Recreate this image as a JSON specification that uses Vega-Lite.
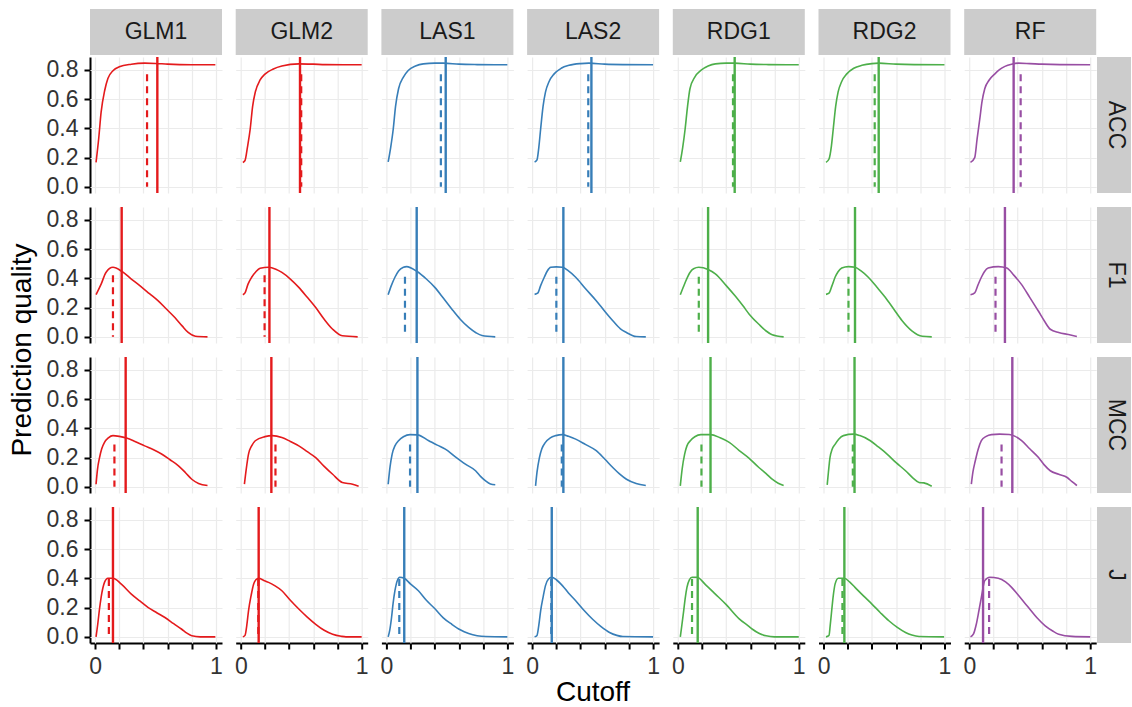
{
  "$schema": "https://vega.github.io/schema/vega-lite/v6.json",
  "background": "white",
  "padding": {"left": 8, "top": 9, "right": 0, "bottom": 0},
  "config": {
    "font": "Liberation Sans",
    "view": {"stroke": null},
    "axis": {
      "gridColor": "#EBEBEB",
      "gridWidth": 1.2,
      "domainColor": "#000000",
      "domainWidth": 2,
      "tickColor": "#000000",
      "tickWidth": 2,
      "tickSize": 6,
      "labelFont": "Liberation Sans",
      "labelFontSize": 23,
      "labelColor": "#333333",
      "labelPadding": 6,
      "labelOverlap": false,
      "labelFlush": false
    }
  },
  "datasets": {
    "models": [{"m": "GLM1"}, {"m": "GLM2"}, {"m": "LAS1"}, {"m": "LAS2"}, {"m": "RDG1"}, {"m": "RDG2"}, {"m": "RF"}],
    "metrics": [{"k": "ACC"}, {"k": "F1"}, {"k": "MCC"}, {"k": "J"}],
    "d": [
      {"m":"GLM1","k":"ACC","g":"c","x":0.008,"y":0.167},{"m":"GLM1","k":"ACC","g":"c","x":0.03,"y":0.33},{"m":"GLM1","k":"ACC","g":"c","x":0.05,"y":0.51},{"m":"GLM1","k":"ACC","g":"c","x":0.08,"y":0.66},{"m":"GLM1","k":"ACC","g":"c","x":0.106,"y":0.74},{"m":"GLM1","k":"ACC","g":"c","x":0.15,"y":0.795},{"m":"GLM1","k":"ACC","g":"c","x":0.2,"y":0.82},{"m":"GLM1","k":"ACC","g":"c","x":0.3,"y":0.838},{"m":"GLM1","k":"ACC","g":"c","x":0.41,"y":0.845},{"m":"GLM1","k":"ACC","g":"c","x":0.5,"y":0.843},{"m":"GLM1","k":"ACC","g":"c","x":0.6,"y":0.838},{"m":"GLM1","k":"ACC","g":"c","x":0.7,"y":0.835},{"m":"GLM1","k":"ACC","g":"c","x":0.8,"y":0.834},{"m":"GLM1","k":"ACC","g":"c","x":0.9,"y":0.834},{"m":"GLM1","k":"ACC","g":"c","x":0.995,"y":0.834},
      {"m":"GLM1","k":"ACC","g":"s","x":0.515},{"m":"GLM1","k":"ACC","g":"d","x":0.43,"y":0.77},

      {"m":"GLM2","k":"ACC","g":"c","x":0.017,"y":0.167},{"m":"GLM2","k":"ACC","g":"c","x":0.035,"y":0.18},{"m":"GLM2","k":"ACC","g":"c","x":0.055,"y":0.27},{"m":"GLM2","k":"ACC","g":"c","x":0.078,"y":0.395},{"m":"GLM2","k":"ACC","g":"c","x":0.098,"y":0.55},{"m":"GLM2","k":"ACC","g":"c","x":0.12,"y":0.647},{"m":"GLM2","k":"ACC","g":"c","x":0.16,"y":0.73},{"m":"GLM2","k":"ACC","g":"c","x":0.2,"y":0.77},{"m":"GLM2","k":"ACC","g":"c","x":0.27,"y":0.805},{"m":"GLM2","k":"ACC","g":"c","x":0.34,"y":0.825},{"m":"GLM2","k":"ACC","g":"c","x":0.48,"y":0.84},{"m":"GLM2","k":"ACC","g":"c","x":0.6,"y":0.838},{"m":"GLM2","k":"ACC","g":"c","x":0.7,"y":0.835},{"m":"GLM2","k":"ACC","g":"c","x":0.85,"y":0.834},{"m":"GLM2","k":"ACC","g":"c","x":1.0,"y":0.834},
      {"m":"GLM2","k":"ACC","g":"s","x":0.49},{"m":"GLM2","k":"ACC","g":"d","x":0.5,"y":0.77},

      {"m":"LAS1","k":"ACC","g":"c","x":0.014,"y":0.17},{"m":"LAS1","k":"ACC","g":"c","x":0.035,"y":0.27},{"m":"LAS1","k":"ACC","g":"c","x":0.056,"y":0.395},{"m":"LAS1","k":"ACC","g":"c","x":0.075,"y":0.55},{"m":"LAS1","k":"ACC","g":"c","x":0.1,"y":0.67},{"m":"LAS1","k":"ACC","g":"c","x":0.14,"y":0.75},{"m":"LAS1","k":"ACC","g":"c","x":0.18,"y":0.795},{"m":"LAS1","k":"ACC","g":"c","x":0.24,"y":0.825},{"m":"LAS1","k":"ACC","g":"c","x":0.305,"y":0.84},{"m":"LAS1","k":"ACC","g":"c","x":0.4,"y":0.845},{"m":"LAS1","k":"ACC","g":"c","x":0.47,"y":0.845},{"m":"LAS1","k":"ACC","g":"c","x":0.6,"y":0.838},{"m":"LAS1","k":"ACC","g":"c","x":0.75,"y":0.835},{"m":"LAS1","k":"ACC","g":"c","x":0.9,"y":0.834},{"m":"LAS1","k":"ACC","g":"c","x":1.0,"y":0.834},
      {"m":"LAS1","k":"ACC","g":"s","x":0.49},{"m":"LAS1","k":"ACC","g":"d","x":0.45,"y":0.77},

      {"m":"LAS2","k":"ACC","g":"c","x":0.02,"y":0.17},{"m":"LAS2","k":"ACC","g":"c","x":0.04,"y":0.185},{"m":"LAS2","k":"ACC","g":"c","x":0.055,"y":0.27},{"m":"LAS2","k":"ACC","g":"c","x":0.07,"y":0.395},{"m":"LAS2","k":"ACC","g":"c","x":0.09,"y":0.55},{"m":"LAS2","k":"ACC","g":"c","x":0.11,"y":0.647},{"m":"LAS2","k":"ACC","g":"c","x":0.14,"y":0.72},{"m":"LAS2","k":"ACC","g":"c","x":0.18,"y":0.77},{"m":"LAS2","k":"ACC","g":"c","x":0.24,"y":0.81},{"m":"LAS2","k":"ACC","g":"c","x":0.305,"y":0.83},{"m":"LAS2","k":"ACC","g":"c","x":0.4,"y":0.842},{"m":"LAS2","k":"ACC","g":"c","x":0.47,"y":0.845},{"m":"LAS2","k":"ACC","g":"c","x":0.6,"y":0.838},{"m":"LAS2","k":"ACC","g":"c","x":0.75,"y":0.835},{"m":"LAS2","k":"ACC","g":"c","x":1.0,"y":0.834},
      {"m":"LAS2","k":"ACC","g":"s","x":0.49},{"m":"LAS2","k":"ACC","g":"d","x":0.464,"y":0.77},

      {"m":"RDG1","k":"ACC","g":"c","x":0.02,"y":0.17},{"m":"RDG1","k":"ACC","g":"c","x":0.04,"y":0.27},{"m":"RDG1","k":"ACC","g":"c","x":0.06,"y":0.395},{"m":"RDG1","k":"ACC","g":"c","x":0.08,"y":0.55},{"m":"RDG1","k":"ACC","g":"c","x":0.1,"y":0.67},{"m":"RDG1","k":"ACC","g":"c","x":0.14,"y":0.75},{"m":"RDG1","k":"ACC","g":"c","x":0.19,"y":0.795},{"m":"RDG1","k":"ACC","g":"c","x":0.25,"y":0.825},{"m":"RDG1","k":"ACC","g":"c","x":0.31,"y":0.84},{"m":"RDG1","k":"ACC","g":"c","x":0.4,"y":0.845},{"m":"RDG1","k":"ACC","g":"c","x":0.47,"y":0.845},{"m":"RDG1","k":"ACC","g":"c","x":0.6,"y":0.838},{"m":"RDG1","k":"ACC","g":"c","x":0.75,"y":0.835},{"m":"RDG1","k":"ACC","g":"c","x":0.9,"y":0.834},{"m":"RDG1","k":"ACC","g":"c","x":1.0,"y":0.834},
      {"m":"RDG1","k":"ACC","g":"s","x":0.47},{"m":"RDG1","k":"ACC","g":"d","x":0.456,"y":0.77},

      {"m":"RDG2","k":"ACC","g":"c","x":0.02,"y":0.167},{"m":"RDG2","k":"ACC","g":"c","x":0.045,"y":0.19},{"m":"RDG2","k":"ACC","g":"c","x":0.065,"y":0.28},{"m":"RDG2","k":"ACC","g":"c","x":0.08,"y":0.395},{"m":"RDG2","k":"ACC","g":"c","x":0.1,"y":0.55},{"m":"RDG2","k":"ACC","g":"c","x":0.12,"y":0.647},{"m":"RDG2","k":"ACC","g":"c","x":0.15,"y":0.72},{"m":"RDG2","k":"ACC","g":"c","x":0.19,"y":0.77},{"m":"RDG2","k":"ACC","g":"c","x":0.25,"y":0.81},{"m":"RDG2","k":"ACC","g":"c","x":0.317,"y":0.83},{"m":"RDG2","k":"ACC","g":"c","x":0.4,"y":0.842},{"m":"RDG2","k":"ACC","g":"c","x":0.456,"y":0.845},{"m":"RDG2","k":"ACC","g":"c","x":0.6,"y":0.838},{"m":"RDG2","k":"ACC","g":"c","x":0.75,"y":0.835},{"m":"RDG2","k":"ACC","g":"c","x":1.0,"y":0.834},
      {"m":"RDG2","k":"ACC","g":"s","x":0.456},{"m":"RDG2","k":"ACC","g":"d","x":0.423,"y":0.77},

      {"m":"RF","k":"ACC","g":"c","x":0.01,"y":0.167},{"m":"RF","k":"ACC","g":"c","x":0.045,"y":0.2},{"m":"RF","k":"ACC","g":"c","x":0.065,"y":0.33},{"m":"RF","k":"ACC","g":"c","x":0.087,"y":0.464},{"m":"RF","k":"ACC","g":"c","x":0.105,"y":0.58},{"m":"RF","k":"ACC","g":"c","x":0.128,"y":0.67},{"m":"RF","k":"ACC","g":"c","x":0.165,"y":0.73},{"m":"RF","k":"ACC","g":"c","x":0.21,"y":0.77},{"m":"RF","k":"ACC","g":"c","x":0.25,"y":0.8},{"m":"RF","k":"ACC","g":"c","x":0.295,"y":0.823},{"m":"RF","k":"ACC","g":"c","x":0.35,"y":0.838},{"m":"RF","k":"ACC","g":"c","x":0.406,"y":0.845},{"m":"RF","k":"ACC","g":"c","x":0.5,"y":0.842},{"m":"RF","k":"ACC","g":"c","x":0.6,"y":0.838},{"m":"RF","k":"ACC","g":"c","x":0.75,"y":0.835},{"m":"RF","k":"ACC","g":"c","x":1.0,"y":0.834},
      {"m":"RF","k":"ACC","g":"s","x":0.367},{"m":"RF","k":"ACC","g":"d","x":0.425,"y":0.77},

      {"m":"GLM1","k":"F1","g":"c","x":0.008,"y":0.288},{"m":"GLM1","k":"F1","g":"c","x":0.05,"y":0.36},{"m":"GLM1","k":"F1","g":"c","x":0.09,"y":0.44},{"m":"GLM1","k":"F1","g":"c","x":0.148,"y":0.475},{"m":"GLM1","k":"F1","g":"c","x":0.22,"y":0.448},{"m":"GLM1","k":"F1","g":"c","x":0.3,"y":0.395},{"m":"GLM1","k":"F1","g":"c","x":0.38,"y":0.343},{"m":"GLM1","k":"F1","g":"c","x":0.45,"y":0.295},{"m":"GLM1","k":"F1","g":"c","x":0.52,"y":0.247},{"m":"GLM1","k":"F1","g":"c","x":0.59,"y":0.19},{"m":"GLM1","k":"F1","g":"c","x":0.66,"y":0.132},{"m":"GLM1","k":"F1","g":"c","x":0.72,"y":0.075},{"m":"GLM1","k":"F1","g":"c","x":0.77,"y":0.03},{"m":"GLM1","k":"F1","g":"c","x":0.83,"y":0.004},{"m":"GLM1","k":"F1","g":"c","x":0.93,"y":0.0},
      {"m":"GLM1","k":"F1","g":"s","x":0.22},{"m":"GLM1","k":"F1","g":"d","x":0.148,"y":0.42},

      {"m":"GLM2","k":"F1","g":"c","x":0.017,"y":0.288},{"m":"GLM2","k":"F1","g":"c","x":0.035,"y":0.3},{"m":"GLM2","k":"F1","g":"c","x":0.06,"y":0.36},{"m":"GLM2","k":"F1","g":"c","x":0.09,"y":0.407},{"m":"GLM2","k":"F1","g":"c","x":0.125,"y":0.445},{"m":"GLM2","k":"F1","g":"c","x":0.16,"y":0.468},{"m":"GLM2","k":"F1","g":"c","x":0.23,"y":0.475},{"m":"GLM2","k":"F1","g":"c","x":0.29,"y":0.462},{"m":"GLM2","k":"F1","g":"c","x":0.34,"y":0.44},{"m":"GLM2","k":"F1","g":"c","x":0.41,"y":0.395},{"m":"GLM2","k":"F1","g":"c","x":0.48,"y":0.338},{"m":"GLM2","k":"F1","g":"c","x":0.55,"y":0.27},{"m":"GLM2","k":"F1","g":"c","x":0.62,"y":0.2},{"m":"GLM2","k":"F1","g":"c","x":0.69,"y":0.12},{"m":"GLM2","k":"F1","g":"c","x":0.76,"y":0.052},{"m":"GLM2","k":"F1","g":"c","x":0.84,"y":0.007},{"m":"GLM2","k":"F1","g":"c","x":0.967,"y":0.0},
      {"m":"GLM2","k":"F1","g":"s","x":0.237},{"m":"GLM2","k":"F1","g":"d","x":0.197,"y":0.42},

      {"m":"LAS1","k":"F1","g":"c","x":0.014,"y":0.288},{"m":"LAS1","k":"F1","g":"c","x":0.04,"y":0.35},{"m":"LAS1","k":"F1","g":"c","x":0.07,"y":0.407},{"m":"LAS1","k":"F1","g":"c","x":0.1,"y":0.45},{"m":"LAS1","k":"F1","g":"c","x":0.14,"y":0.475},{"m":"LAS1","k":"F1","g":"c","x":0.167,"y":0.48},{"m":"LAS1","k":"F1","g":"c","x":0.25,"y":0.448},{"m":"LAS1","k":"F1","g":"c","x":0.33,"y":0.395},{"m":"LAS1","k":"F1","g":"c","x":0.4,"y":0.338},{"m":"LAS1","k":"F1","g":"c","x":0.47,"y":0.265},{"m":"LAS1","k":"F1","g":"c","x":0.54,"y":0.19},{"m":"LAS1","k":"F1","g":"c","x":0.61,"y":0.12},{"m":"LAS1","k":"F1","g":"c","x":0.68,"y":0.064},{"m":"LAS1","k":"F1","g":"c","x":0.74,"y":0.028},{"m":"LAS1","k":"F1","g":"c","x":0.79,"y":0.009},{"m":"LAS1","k":"F1","g":"c","x":0.9,"y":0.0},
      {"m":"LAS1","k":"F1","g":"s","x":0.25},{"m":"LAS1","k":"F1","g":"d","x":0.153,"y":0.41},

      {"m":"LAS2","k":"F1","g":"c","x":0.02,"y":0.29},{"m":"LAS2","k":"F1","g":"c","x":0.045,"y":0.298},{"m":"LAS2","k":"F1","g":"c","x":0.07,"y":0.35},{"m":"LAS2","k":"F1","g":"c","x":0.1,"y":0.407},{"m":"LAS2","k":"F1","g":"c","x":0.125,"y":0.45},{"m":"LAS2","k":"F1","g":"c","x":0.153,"y":0.475},{"m":"LAS2","k":"F1","g":"c","x":0.2,"y":0.478},{"m":"LAS2","k":"F1","g":"c","x":0.25,"y":0.475},{"m":"LAS2","k":"F1","g":"c","x":0.3,"y":0.45},{"m":"LAS2","k":"F1","g":"c","x":0.36,"y":0.407},{"m":"LAS2","k":"F1","g":"c","x":0.44,"y":0.33},{"m":"LAS2","k":"F1","g":"c","x":0.53,"y":0.247},{"m":"LAS2","k":"F1","g":"c","x":0.6,"y":0.175},{"m":"LAS2","k":"F1","g":"c","x":0.667,"y":0.11},{"m":"LAS2","k":"F1","g":"c","x":0.73,"y":0.055},{"m":"LAS2","k":"F1","g":"c","x":0.78,"y":0.03},{"m":"LAS2","k":"F1","g":"c","x":0.86,"y":0.002},{"m":"LAS2","k":"F1","g":"c","x":0.94,"y":0.0},
      {"m":"LAS2","k":"F1","g":"s","x":0.258},{"m":"LAS2","k":"F1","g":"d","x":0.2,"y":0.41},

      {"m":"RDG1","k":"F1","g":"c","x":0.02,"y":0.288},{"m":"RDG1","k":"F1","g":"c","x":0.045,"y":0.34},{"m":"RDG1","k":"F1","g":"c","x":0.07,"y":0.39},{"m":"RDG1","k":"F1","g":"c","x":0.1,"y":0.44},{"m":"RDG1","k":"F1","g":"c","x":0.13,"y":0.465},{"m":"RDG1","k":"F1","g":"c","x":0.173,"y":0.475},{"m":"RDG1","k":"F1","g":"c","x":0.25,"y":0.46},{"m":"RDG1","k":"F1","g":"c","x":0.31,"y":0.43},{"m":"RDG1","k":"F1","g":"c","x":0.4,"y":0.35},{"m":"RDG1","k":"F1","g":"c","x":0.478,"y":0.275},{"m":"RDG1","k":"F1","g":"c","x":0.54,"y":0.21},{"m":"RDG1","k":"F1","g":"c","x":0.59,"y":0.155},{"m":"RDG1","k":"F1","g":"c","x":0.67,"y":0.086},{"m":"RDG1","k":"F1","g":"c","x":0.73,"y":0.04},{"m":"RDG1","k":"F1","g":"c","x":0.78,"y":0.014},{"m":"RDG1","k":"F1","g":"c","x":0.875,"y":0.0},
      {"m":"RDG1","k":"F1","g":"s","x":0.25},{"m":"RDG1","k":"F1","g":"d","x":0.173,"y":0.41},

      {"m":"RDG2","k":"F1","g":"c","x":0.02,"y":0.29},{"m":"RDG2","k":"F1","g":"c","x":0.045,"y":0.298},{"m":"RDG2","k":"F1","g":"c","x":0.07,"y":0.35},{"m":"RDG2","k":"F1","g":"c","x":0.095,"y":0.407},{"m":"RDG2","k":"F1","g":"c","x":0.12,"y":0.445},{"m":"RDG2","k":"F1","g":"c","x":0.15,"y":0.47},{"m":"RDG2","k":"F1","g":"c","x":0.206,"y":0.48},{"m":"RDG2","k":"F1","g":"c","x":0.26,"y":0.475},{"m":"RDG2","k":"F1","g":"c","x":0.31,"y":0.45},{"m":"RDG2","k":"F1","g":"c","x":0.37,"y":0.407},{"m":"RDG2","k":"F1","g":"c","x":0.44,"y":0.34},{"m":"RDG2","k":"F1","g":"c","x":0.51,"y":0.27},{"m":"RDG2","k":"F1","g":"c","x":0.58,"y":0.19},{"m":"RDG2","k":"F1","g":"c","x":0.65,"y":0.11},{"m":"RDG2","k":"F1","g":"c","x":0.73,"y":0.041},{"m":"RDG2","k":"F1","g":"c","x":0.817,"y":0.004},{"m":"RDG2","k":"F1","g":"c","x":0.895,"y":0.0},
      {"m":"RDG2","k":"F1","g":"s","x":0.26},{"m":"RDG2","k":"F1","g":"d","x":0.206,"y":0.41},

      {"m":"RF","k":"F1","g":"c","x":0.01,"y":0.288},{"m":"RF","k":"F1","g":"c","x":0.045,"y":0.3},{"m":"RF","k":"F1","g":"c","x":0.07,"y":0.35},{"m":"RF","k":"F1","g":"c","x":0.1,"y":0.407},{"m":"RF","k":"F1","g":"c","x":0.125,"y":0.445},{"m":"RF","k":"F1","g":"c","x":0.156,"y":0.47},{"m":"RF","k":"F1","g":"c","x":0.24,"y":0.48},{"m":"RF","k":"F1","g":"c","x":0.31,"y":0.47},{"m":"RF","k":"F1","g":"c","x":0.37,"y":0.42},{"m":"RF","k":"F1","g":"c","x":0.43,"y":0.36},{"m":"RF","k":"F1","g":"c","x":0.5,"y":0.27},{"m":"RF","k":"F1","g":"c","x":0.57,"y":0.178},{"m":"RF","k":"F1","g":"c","x":0.62,"y":0.11},{"m":"RF","k":"F1","g":"c","x":0.67,"y":0.052},{"m":"RF","k":"F1","g":"c","x":0.74,"y":0.03},{"m":"RF","k":"F1","g":"c","x":0.82,"y":0.016},{"m":"RF","k":"F1","g":"c","x":0.89,"y":0.003},
      {"m":"RF","k":"F1","g":"s","x":0.295},{"m":"RF","k":"F1","g":"d","x":0.217,"y":0.41},

      {"m":"GLM1","k":"MCC","g":"c","x":0.008,"y":0.018},{"m":"GLM1","k":"MCC","g":"c","x":0.02,"y":0.12},{"m":"GLM1","k":"MCC","g":"c","x":0.037,"y":0.2},{"m":"GLM1","k":"MCC","g":"c","x":0.055,"y":0.26},{"m":"GLM1","k":"MCC","g":"c","x":0.078,"y":0.304},{"m":"GLM1","k":"MCC","g":"c","x":0.11,"y":0.335},{"m":"GLM1","k":"MCC","g":"c","x":0.148,"y":0.35},{"m":"GLM1","k":"MCC","g":"c","x":0.2,"y":0.345},{"m":"GLM1","k":"MCC","g":"c","x":0.26,"y":0.333},{"m":"GLM1","k":"MCC","g":"c","x":0.33,"y":0.31},{"m":"GLM1","k":"MCC","g":"c","x":0.41,"y":0.28},{"m":"GLM1","k":"MCC","g":"c","x":0.48,"y":0.255},{"m":"GLM1","k":"MCC","g":"c","x":0.55,"y":0.224},{"m":"GLM1","k":"MCC","g":"c","x":0.62,"y":0.185},{"m":"GLM1","k":"MCC","g":"c","x":0.69,"y":0.144},{"m":"GLM1","k":"MCC","g":"c","x":0.75,"y":0.095},{"m":"GLM1","k":"MCC","g":"c","x":0.8,"y":0.052},{"m":"GLM1","k":"MCC","g":"c","x":0.856,"y":0.023},{"m":"GLM1","k":"MCC","g":"c","x":0.93,"y":0.009},
      {"m":"GLM1","k":"MCC","g":"s","x":0.253},{"m":"GLM1","k":"MCC","g":"d","x":0.16,"y":0.29},

      {"m":"GLM2","k":"MCC","g":"c","x":0.03,"y":0.018},{"m":"GLM2","k":"MCC","g":"c","x":0.045,"y":0.12},{"m":"GLM2","k":"MCC","g":"c","x":0.064,"y":0.224},{"m":"GLM2","k":"MCC","g":"c","x":0.09,"y":0.28},{"m":"GLM2","k":"MCC","g":"c","x":0.12,"y":0.315},{"m":"GLM2","k":"MCC","g":"c","x":0.2,"y":0.343},{"m":"GLM2","k":"MCC","g":"c","x":0.26,"y":0.35},{"m":"GLM2","k":"MCC","g":"c","x":0.34,"y":0.337},{"m":"GLM2","k":"MCC","g":"c","x":0.41,"y":0.31},{"m":"GLM2","k":"MCC","g":"c","x":0.48,"y":0.28},{"m":"GLM2","k":"MCC","g":"c","x":0.55,"y":0.24},{"m":"GLM2","k":"MCC","g":"c","x":0.62,"y":0.2},{"m":"GLM2","k":"MCC","g":"c","x":0.69,"y":0.14},{"m":"GLM2","k":"MCC","g":"c","x":0.76,"y":0.086},{"m":"GLM2","k":"MCC","g":"c","x":0.84,"y":0.03},{"m":"GLM2","k":"MCC","g":"c","x":0.925,"y":0.018},{"m":"GLM2","k":"MCC","g":"c","x":0.975,"y":0.004},
      {"m":"GLM2","k":"MCC","g":"s","x":0.253},{"m":"GLM2","k":"MCC","g":"d","x":0.287,"y":0.29},

      {"m":"LAS1","k":"MCC","g":"c","x":0.014,"y":0.018},{"m":"LAS1","k":"MCC","g":"c","x":0.03,"y":0.14},{"m":"LAS1","k":"MCC","g":"c","x":0.047,"y":0.224},{"m":"LAS1","k":"MCC","g":"c","x":0.07,"y":0.28},{"m":"LAS1","k":"MCC","g":"c","x":0.1,"y":0.315},{"m":"LAS1","k":"MCC","g":"c","x":0.14,"y":0.342},{"m":"LAS1","k":"MCC","g":"c","x":0.195,"y":0.357},{"m":"LAS1","k":"MCC","g":"c","x":0.256,"y":0.355},{"m":"LAS1","k":"MCC","g":"c","x":0.35,"y":0.315},{"m":"LAS1","k":"MCC","g":"c","x":0.42,"y":0.285},{"m":"LAS1","k":"MCC","g":"c","x":0.487,"y":0.258},{"m":"LAS1","k":"MCC","g":"c","x":0.57,"y":0.205},{"m":"LAS1","k":"MCC","g":"c","x":0.653,"y":0.155},{"m":"LAS1","k":"MCC","g":"c","x":0.737,"y":0.11},{"m":"LAS1","k":"MCC","g":"c","x":0.78,"y":0.07},{"m":"LAS1","k":"MCC","g":"c","x":0.82,"y":0.041},{"m":"LAS1","k":"MCC","g":"c","x":0.86,"y":0.02},{"m":"LAS1","k":"MCC","g":"c","x":0.9,"y":0.014},
      {"m":"LAS1","k":"MCC","g":"s","x":0.256},{"m":"LAS1","k":"MCC","g":"d","x":0.195,"y":0.29},

      {"m":"LAS2","k":"MCC","g":"c","x":0.028,"y":0.007},{"m":"LAS2","k":"MCC","g":"c","x":0.04,"y":0.1},{"m":"LAS2","k":"MCC","g":"c","x":0.06,"y":0.2},{"m":"LAS2","k":"MCC","g":"c","x":0.08,"y":0.26},{"m":"LAS2","k":"MCC","g":"c","x":0.11,"y":0.304},{"m":"LAS2","k":"MCC","g":"c","x":0.15,"y":0.335},{"m":"LAS2","k":"MCC","g":"c","x":0.195,"y":0.35},{"m":"LAS2","k":"MCC","g":"c","x":0.25,"y":0.357},{"m":"LAS2","k":"MCC","g":"c","x":0.3,"y":0.345},{"m":"LAS2","k":"MCC","g":"c","x":0.36,"y":0.326},{"m":"LAS2","k":"MCC","g":"c","x":0.44,"y":0.29},{"m":"LAS2","k":"MCC","g":"c","x":0.53,"y":0.247},{"m":"LAS2","k":"MCC","g":"c","x":0.6,"y":0.19},{"m":"LAS2","k":"MCC","g":"c","x":0.667,"y":0.132},{"m":"LAS2","k":"MCC","g":"c","x":0.72,"y":0.09},{"m":"LAS2","k":"MCC","g":"c","x":0.78,"y":0.052},{"m":"LAS2","k":"MCC","g":"c","x":0.86,"y":0.023},{"m":"LAS2","k":"MCC","g":"c","x":0.94,"y":0.009},
      {"m":"LAS2","k":"MCC","g":"s","x":0.258},{"m":"LAS2","k":"MCC","g":"d","x":0.245,"y":0.29},

      {"m":"RDG1","k":"MCC","g":"c","x":0.02,"y":0.007},{"m":"RDG1","k":"MCC","g":"c","x":0.035,"y":0.12},{"m":"RDG1","k":"MCC","g":"c","x":0.056,"y":0.224},{"m":"RDG1","k":"MCC","g":"c","x":0.075,"y":0.28},{"m":"RDG1","k":"MCC","g":"c","x":0.103,"y":0.315},{"m":"RDG1","k":"MCC","g":"c","x":0.14,"y":0.342},{"m":"RDG1","k":"MCC","g":"c","x":0.19,"y":0.357},{"m":"RDG1","k":"MCC","g":"c","x":0.27,"y":0.357},{"m":"RDG1","k":"MCC","g":"c","x":0.35,"y":0.335},{"m":"RDG1","k":"MCC","g":"c","x":0.425,"y":0.304},{"m":"RDG1","k":"MCC","g":"c","x":0.505,"y":0.25},{"m":"RDG1","k":"MCC","g":"c","x":0.59,"y":0.195},{"m":"RDG1","k":"MCC","g":"c","x":0.67,"y":0.132},{"m":"RDG1","k":"MCC","g":"c","x":0.73,"y":0.09},{"m":"RDG1","k":"MCC","g":"c","x":0.78,"y":0.052},{"m":"RDG1","k":"MCC","g":"c","x":0.83,"y":0.025},{"m":"RDG1","k":"MCC","g":"c","x":0.875,"y":0.009},
      {"m":"RDG1","k":"MCC","g":"s","x":0.27},{"m":"RDG1","k":"MCC","g":"d","x":0.195,"y":0.29},

      {"m":"RDG2","k":"MCC","g":"c","x":0.03,"y":0.014},{"m":"RDG2","k":"MCC","g":"c","x":0.04,"y":0.1},{"m":"RDG2","k":"MCC","g":"c","x":0.053,"y":0.2},{"m":"RDG2","k":"MCC","g":"c","x":0.07,"y":0.255},{"m":"RDG2","k":"MCC","g":"c","x":0.095,"y":0.29},{"m":"RDG2","k":"MCC","g":"c","x":0.125,"y":0.325},{"m":"RDG2","k":"MCC","g":"c","x":0.164,"y":0.35},{"m":"RDG2","k":"MCC","g":"c","x":0.247,"y":0.36},{"m":"RDG2","k":"MCC","g":"c","x":0.3,"y":0.35},{"m":"RDG2","k":"MCC","g":"c","x":0.387,"y":0.315},{"m":"RDG2","k":"MCC","g":"c","x":0.45,"y":0.275},{"m":"RDG2","k":"MCC","g":"c","x":0.525,"y":0.224},{"m":"RDG2","k":"MCC","g":"c","x":0.6,"y":0.165},{"m":"RDG2","k":"MCC","g":"c","x":0.678,"y":0.11},{"m":"RDG2","k":"MCC","g":"c","x":0.74,"y":0.06},{"m":"RDG2","k":"MCC","g":"c","x":0.79,"y":0.03},{"m":"RDG2","k":"MCC","g":"c","x":0.83,"y":0.027},{"m":"RDG2","k":"MCC","g":"c","x":0.895,"y":0.004},
      {"m":"RDG2","k":"MCC","g":"s","x":0.256},{"m":"RDG2","k":"MCC","g":"d","x":0.242,"y":0.29},

      {"m":"RF","k":"MCC","g":"c","x":0.017,"y":0.018},{"m":"RF","k":"MCC","g":"c","x":0.03,"y":0.1},{"m":"RF","k":"MCC","g":"c","x":0.05,"y":0.178},{"m":"RF","k":"MCC","g":"c","x":0.075,"y":0.26},{"m":"RF","k":"MCC","g":"c","x":0.1,"y":0.315},{"m":"RF","k":"MCC","g":"c","x":0.14,"y":0.345},{"m":"RF","k":"MCC","g":"c","x":0.183,"y":0.357},{"m":"RF","k":"MCC","g":"c","x":0.25,"y":0.36},{"m":"RF","k":"MCC","g":"c","x":0.33,"y":0.358},{"m":"RF","k":"MCC","g":"c","x":0.38,"y":0.345},{"m":"RF","k":"MCC","g":"c","x":0.433,"y":0.315},{"m":"RF","k":"MCC","g":"c","x":0.5,"y":0.26},{"m":"RF","k":"MCC","g":"c","x":0.573,"y":0.2},{"m":"RF","k":"MCC","g":"c","x":0.62,"y":0.15},{"m":"RF","k":"MCC","g":"c","x":0.67,"y":0.11},{"m":"RF","k":"MCC","g":"c","x":0.74,"y":0.086},{"m":"RF","k":"MCC","g":"c","x":0.81,"y":0.064},{"m":"RF","k":"MCC","g":"c","x":0.85,"y":0.035},{"m":"RF","k":"MCC","g":"c","x":0.89,"y":0.009},
      {"m":"RF","k":"MCC","g":"s","x":0.356},{"m":"RF","k":"MCC","g":"d","x":0.267,"y":0.29},

      {"m":"GLM1","k":"J","g":"c","x":0.008,"y":0.0},{"m":"GLM1","k":"J","g":"c","x":0.022,"y":0.086},{"m":"GLM1","k":"J","g":"c","x":0.035,"y":0.18},{"m":"GLM1","k":"J","g":"c","x":0.05,"y":0.27},{"m":"GLM1","k":"J","g":"c","x":0.078,"y":0.372},{"m":"GLM1","k":"J","g":"c","x":0.106,"y":0.4},{"m":"GLM1","k":"J","g":"c","x":0.148,"y":0.4},{"m":"GLM1","k":"J","g":"c","x":0.217,"y":0.36},{"m":"GLM1","k":"J","g":"c","x":0.3,"y":0.292},{"m":"GLM1","k":"J","g":"c","x":0.37,"y":0.245},{"m":"GLM1","k":"J","g":"c","x":0.44,"y":0.2},{"m":"GLM1","k":"J","g":"c","x":0.51,"y":0.165},{"m":"GLM1","k":"J","g":"c","x":0.578,"y":0.132},{"m":"GLM1","k":"J","g":"c","x":0.65,"y":0.09},{"m":"GLM1","k":"J","g":"c","x":0.717,"y":0.052},{"m":"GLM1","k":"J","g":"c","x":0.76,"y":0.025},{"m":"GLM1","k":"J","g":"c","x":0.8,"y":0.007},{"m":"GLM1","k":"J","g":"c","x":0.87,"y":0.0},{"m":"GLM1","k":"J","g":"c","x":0.995,"y":0.0},
      {"m":"GLM1","k":"J","g":"s","x":0.148},{"m":"GLM1","k":"J","g":"d","x":0.114,"y":0.395},

      {"m":"GLM2","k":"J","g":"c","x":0.017,"y":0.0},{"m":"GLM2","k":"J","g":"c","x":0.035,"y":0.01},{"m":"GLM2","k":"J","g":"c","x":0.05,"y":0.08},{"m":"GLM2","k":"J","g":"c","x":0.064,"y":0.178},{"m":"GLM2","k":"J","g":"c","x":0.085,"y":0.28},{"m":"GLM2","k":"J","g":"c","x":0.106,"y":0.36},{"m":"GLM2","k":"J","g":"c","x":0.125,"y":0.39},{"m":"GLM2","k":"J","g":"c","x":0.148,"y":0.4},{"m":"GLM2","k":"J","g":"c","x":0.19,"y":0.385},{"m":"GLM2","k":"J","g":"c","x":0.23,"y":0.372},{"m":"GLM2","k":"J","g":"c","x":0.28,"y":0.35},{"m":"GLM2","k":"J","g":"c","x":0.34,"y":0.315},{"m":"GLM2","k":"J","g":"c","x":0.41,"y":0.25},{"m":"GLM2","k":"J","g":"c","x":0.48,"y":0.19},{"m":"GLM2","k":"J","g":"c","x":0.55,"y":0.135},{"m":"GLM2","k":"J","g":"c","x":0.62,"y":0.086},{"m":"GLM2","k":"J","g":"c","x":0.69,"y":0.045},{"m":"GLM2","k":"J","g":"c","x":0.76,"y":0.018},{"m":"GLM2","k":"J","g":"c","x":0.83,"y":0.004},{"m":"GLM2","k":"J","g":"c","x":0.87,"y":0.0},{"m":"GLM2","k":"J","g":"c","x":1.0,"y":0.0},
      {"m":"GLM2","k":"J","g":"s","x":0.148},{"m":"GLM2","k":"J","g":"d","x":0.145,"y":0.395},

      {"m":"LAS1","k":"J","g":"c","x":0.014,"y":0.0},{"m":"LAS1","k":"J","g":"c","x":0.028,"y":0.05},{"m":"LAS1","k":"J","g":"c","x":0.042,"y":0.132},{"m":"LAS1","k":"J","g":"c","x":0.055,"y":0.23},{"m":"LAS1","k":"J","g":"c","x":0.07,"y":0.315},{"m":"LAS1","k":"J","g":"c","x":0.09,"y":0.385},{"m":"LAS1","k":"J","g":"c","x":0.11,"y":0.407},{"m":"LAS1","k":"J","g":"c","x":0.147,"y":0.4},{"m":"LAS1","k":"J","g":"c","x":0.2,"y":0.36},{"m":"LAS1","k":"J","g":"c","x":0.264,"y":0.315},{"m":"LAS1","k":"J","g":"c","x":0.33,"y":0.25},{"m":"LAS1","k":"J","g":"c","x":0.403,"y":0.19},{"m":"LAS1","k":"J","g":"c","x":0.47,"y":0.13},{"m":"LAS1","k":"J","g":"c","x":0.54,"y":0.086},{"m":"LAS1","k":"J","g":"c","x":0.61,"y":0.048},{"m":"LAS1","k":"J","g":"c","x":0.68,"y":0.023},{"m":"LAS1","k":"J","g":"c","x":0.75,"y":0.008},{"m":"LAS1","k":"J","g":"c","x":0.82,"y":0.002},{"m":"LAS1","k":"J","g":"c","x":1.0,"y":0.0},
      {"m":"LAS1","k":"J","g":"s","x":0.147},{"m":"LAS1","k":"J","g":"d","x":0.106,"y":0.395},

      {"m":"LAS2","k":"J","g":"c","x":0.02,"y":0.0},{"m":"LAS2","k":"J","g":"c","x":0.04,"y":0.01},{"m":"LAS2","k":"J","g":"c","x":0.055,"y":0.08},{"m":"LAS2","k":"J","g":"c","x":0.07,"y":0.178},{"m":"LAS2","k":"J","g":"c","x":0.09,"y":0.27},{"m":"LAS2","k":"J","g":"c","x":0.11,"y":0.35},{"m":"LAS2","k":"J","g":"c","x":0.135,"y":0.395},{"m":"LAS2","k":"J","g":"c","x":0.162,"y":0.407},{"m":"LAS2","k":"J","g":"c","x":0.2,"y":0.39},{"m":"LAS2","k":"J","g":"c","x":0.25,"y":0.35},{"m":"LAS2","k":"J","g":"c","x":0.3,"y":0.3},{"m":"LAS2","k":"J","g":"c","x":0.36,"y":0.247},{"m":"LAS2","k":"J","g":"c","x":0.43,"y":0.18},{"m":"LAS2","k":"J","g":"c","x":0.5,"y":0.12},{"m":"LAS2","k":"J","g":"c","x":0.57,"y":0.07},{"m":"LAS2","k":"J","g":"c","x":0.64,"y":0.03},{"m":"LAS2","k":"J","g":"c","x":0.7,"y":0.01},{"m":"LAS2","k":"J","g":"c","x":0.75,"y":0.002},{"m":"LAS2","k":"J","g":"c","x":1.0,"y":0.0},
      {"m":"LAS2","k":"J","g":"s","x":0.162},{"m":"LAS2","k":"J","g":"d","x":0.158,"y":0.395},

      {"m":"RDG1","k":"J","g":"c","x":0.02,"y":0.0},{"m":"RDG1","k":"J","g":"c","x":0.033,"y":0.08},{"m":"RDG1","k":"J","g":"c","x":0.048,"y":0.178},{"m":"RDG1","k":"J","g":"c","x":0.06,"y":0.26},{"m":"RDG1","k":"J","g":"c","x":0.075,"y":0.338},{"m":"RDG1","k":"J","g":"c","x":0.095,"y":0.39},{"m":"RDG1","k":"J","g":"c","x":0.117,"y":0.407},{"m":"RDG1","k":"J","g":"c","x":0.158,"y":0.407},{"m":"RDG1","k":"J","g":"c","x":0.23,"y":0.355},{"m":"RDG1","k":"J","g":"c","x":0.31,"y":0.292},{"m":"RDG1","k":"J","g":"c","x":0.4,"y":0.22},{"m":"RDG1","k":"J","g":"c","x":0.505,"y":0.125},{"m":"RDG1","k":"J","g":"c","x":0.59,"y":0.07},{"m":"RDG1","k":"J","g":"c","x":0.617,"y":0.052},{"m":"RDG1","k":"J","g":"c","x":0.67,"y":0.025},{"m":"RDG1","k":"J","g":"c","x":0.73,"y":0.007},{"m":"RDG1","k":"J","g":"c","x":0.8,"y":0.0},{"m":"RDG1","k":"J","g":"c","x":1.0,"y":0.0},
      {"m":"RDG1","k":"J","g":"s","x":0.164},{"m":"RDG1","k":"J","g":"d","x":0.117,"y":0.395},

      {"m":"RDG2","k":"J","g":"c","x":0.02,"y":0.0},{"m":"RDG2","k":"J","g":"c","x":0.045,"y":0.01},{"m":"RDG2","k":"J","g":"c","x":0.055,"y":0.08},{"m":"RDG2","k":"J","g":"c","x":0.067,"y":0.178},{"m":"RDG2","k":"J","g":"c","x":0.08,"y":0.28},{"m":"RDG2","k":"J","g":"c","x":0.095,"y":0.36},{"m":"RDG2","k":"J","g":"c","x":0.122,"y":0.4},{"m":"RDG2","k":"J","g":"c","x":0.172,"y":0.4},{"m":"RDG2","k":"J","g":"c","x":0.215,"y":0.375},{"m":"RDG2","k":"J","g":"c","x":0.26,"y":0.338},{"m":"RDG2","k":"J","g":"c","x":0.33,"y":0.28},{"m":"RDG2","k":"J","g":"c","x":0.4,"y":0.224},{"m":"RDG2","k":"J","g":"c","x":0.47,"y":0.165},{"m":"RDG2","k":"J","g":"c","x":0.54,"y":0.11},{"m":"RDG2","k":"J","g":"c","x":0.61,"y":0.065},{"m":"RDG2","k":"J","g":"c","x":0.678,"y":0.03},{"m":"RDG2","k":"J","g":"c","x":0.73,"y":0.012},{"m":"RDG2","k":"J","g":"c","x":0.79,"y":0.002},{"m":"RDG2","k":"J","g":"c","x":0.997,"y":0.0},
      {"m":"RDG2","k":"J","g":"s","x":0.172},{"m":"RDG2","k":"J","g":"d","x":0.156,"y":0.395},

      {"m":"RF","k":"J","g":"c","x":0.01,"y":0.0},{"m":"RF","k":"J","g":"c","x":0.035,"y":0.02},{"m":"RF","k":"J","g":"c","x":0.058,"y":0.086},{"m":"RF","k":"J","g":"c","x":0.08,"y":0.18},{"m":"RF","k":"J","g":"c","x":0.1,"y":0.27},{"m":"RF","k":"J","g":"c","x":0.128,"y":0.384},{"m":"RF","k":"J","g":"c","x":0.17,"y":0.407},{"m":"RF","k":"J","g":"c","x":0.24,"y":0.4},{"m":"RF","k":"J","g":"c","x":0.3,"y":0.375},{"m":"RF","k":"J","g":"c","x":0.35,"y":0.338},{"m":"RF","k":"J","g":"c","x":0.42,"y":0.27},{"m":"RF","k":"J","g":"c","x":0.49,"y":0.2},{"m":"RF","k":"J","g":"c","x":0.56,"y":0.13},{"m":"RF","k":"J","g":"c","x":0.628,"y":0.075},{"m":"RF","k":"J","g":"c","x":0.69,"y":0.04},{"m":"RF","k":"J","g":"c","x":0.74,"y":0.018},{"m":"RF","k":"J","g":"c","x":0.85,"y":0.003},{"m":"RF","k":"J","g":"c","x":1.0,"y":0.0},
      {"m":"RF","k":"J","g":"s","x":0.114},{"m":"RF","k":"J","g":"d","x":0.164,"y":0.395}
    ]
  },
  "vconcat": [
    {
      "data": {"name": "models"},
      "facet": {
        "column": {"field": "m", "type": "nominal", "sort": ["GLM1", "GLM2", "LAS1", "LAS2", "RDG1", "RDG2", "RF"], "header": null}
      },
      "spacing": 13.7,
      "spec": {
        "width": 132,
        "height": 46,
        "view": {"fill": "#CCCCCC", "stroke": null},
        "mark": {"type": "text", "font": "Liberation Sans", "fontSize": 23, "color": "#1A1A1A"},
        "encoding": {"text": {"field": "m", "type": "nominal"}}
      }
    },
    {
      "hconcat": [
        {
          "data": {"name": "d"},
          "facet": {
            "row": {
              "field": "k", "type": "nominal", "sort": ["ACC", "F1", "MCC", "J"],
              "header": {"labels": false, "title": "Prediction quality", "titleOrient": "left", "titleFont": "Liberation Sans", "titleFontSize": 28, "titleFontWeight": "normal", "titleColor": "#000000", "titlePadding": -1}
            },
            "column": {
              "field": "m", "type": "nominal", "sort": ["GLM1", "GLM2", "LAS1", "LAS2", "RDG1", "RDG2", "RF"],
              "header": {"labels": false, "title": "Cutoff", "titleOrient": "bottom", "titleFont": "Liberation Sans", "titleFontSize": 28, "titleFontWeight": "normal", "titleColor": "#000000", "titlePadding": -9}
            }
          },
          "bounds": "flush",
          "spacing": {"row": 14, "column": 13.7},
          "spec": {
            "width": 132,
            "height": 136,
            "layer": [
              {
                "transform": [{"filter": "datum.g === 'c'"}],
                "mark": {"type": "line", "interpolate": "monotone", "strokeWidth": 1.6},
                "encoding": {
                  "x": {
                    "field": "x", "type": "quantitative",
                    "scale": {"domain": [-0.042, 1.05], "nice": false, "zero": false},
                    "axis": {"title": null, "values": [0, 0.2, 0.4, 0.6, 0.8, 1], "tickCount": 20, "labelExpr": "datum.value === 0 ? '0' : (datum.value === 1 ? '1' : '')", "labelFlush": false, "labelOverlap": false, "labelBound": false}
                  },
                  "y": {
                    "field": "y", "type": "quantitative",
                    "scale": {"domain": [-0.042, 0.887], "nice": false, "zero": false},
                    "axis": {"title": null, "values": [0, 0.2, 0.4, 0.6, 0.8], "tickCount": 20, "format": ".1f", "labelFlush": false, "labelOverlap": false}
                  },
                  "color": {
                    "field": "m", "type": "nominal",
                    "scale": {"domain": ["GLM1", "GLM2", "LAS1", "LAS2", "RDG1", "RDG2", "RF"], "range": ["#E41A1C", "#E41A1C", "#377EB8", "#377EB8", "#4DAF4A", "#4DAF4A", "#984EA3"]},
                    "legend": null
                  }
                }
              },
              {
                "transform": [{"filter": "datum.g === 'd'"}],
                "mark": {"type": "rule", "strokeWidth": 2.2, "strokeDash": [7, 5]},
                "encoding": {
                  "x": {"field": "x", "type": "quantitative"},
                  "y": {"field": "y", "type": "quantitative"},
                  "y2": {"datum": 0},
                  "color": {"field": "m", "type": "nominal"}
                }
              },
              {
                "transform": [{"filter": "datum.g === 's'"}],
                "mark": {"type": "rule", "strokeWidth": 2.4},
                "encoding": {
                  "x": {"field": "x", "type": "quantitative"},
                  "color": {"field": "m", "type": "nominal"}
                }
              }
            ]
          }
        },
        {
          "data": {"name": "metrics"},
          "facet": {
            "row": {"field": "k", "type": "nominal", "sort": ["ACC", "F1", "MCC", "J"], "header": null}
          },
          "bounds": "flush",
          "spacing": 14,
          "spec": {
            "width": 34,
            "height": 136,
            "view": {"fill": "#CCCCCC", "stroke": null},
            "mark": {"type": "text", "angle": 90, "dy": -2, "font": "Liberation Sans", "fontSize": 23, "color": "#1A1A1A"},
            "encoding": {"text": {"field": "k", "type": "nominal"}}
          }
        }
      ],
      "spacing": 0
    }
  ],
  "spacing": 0
}
